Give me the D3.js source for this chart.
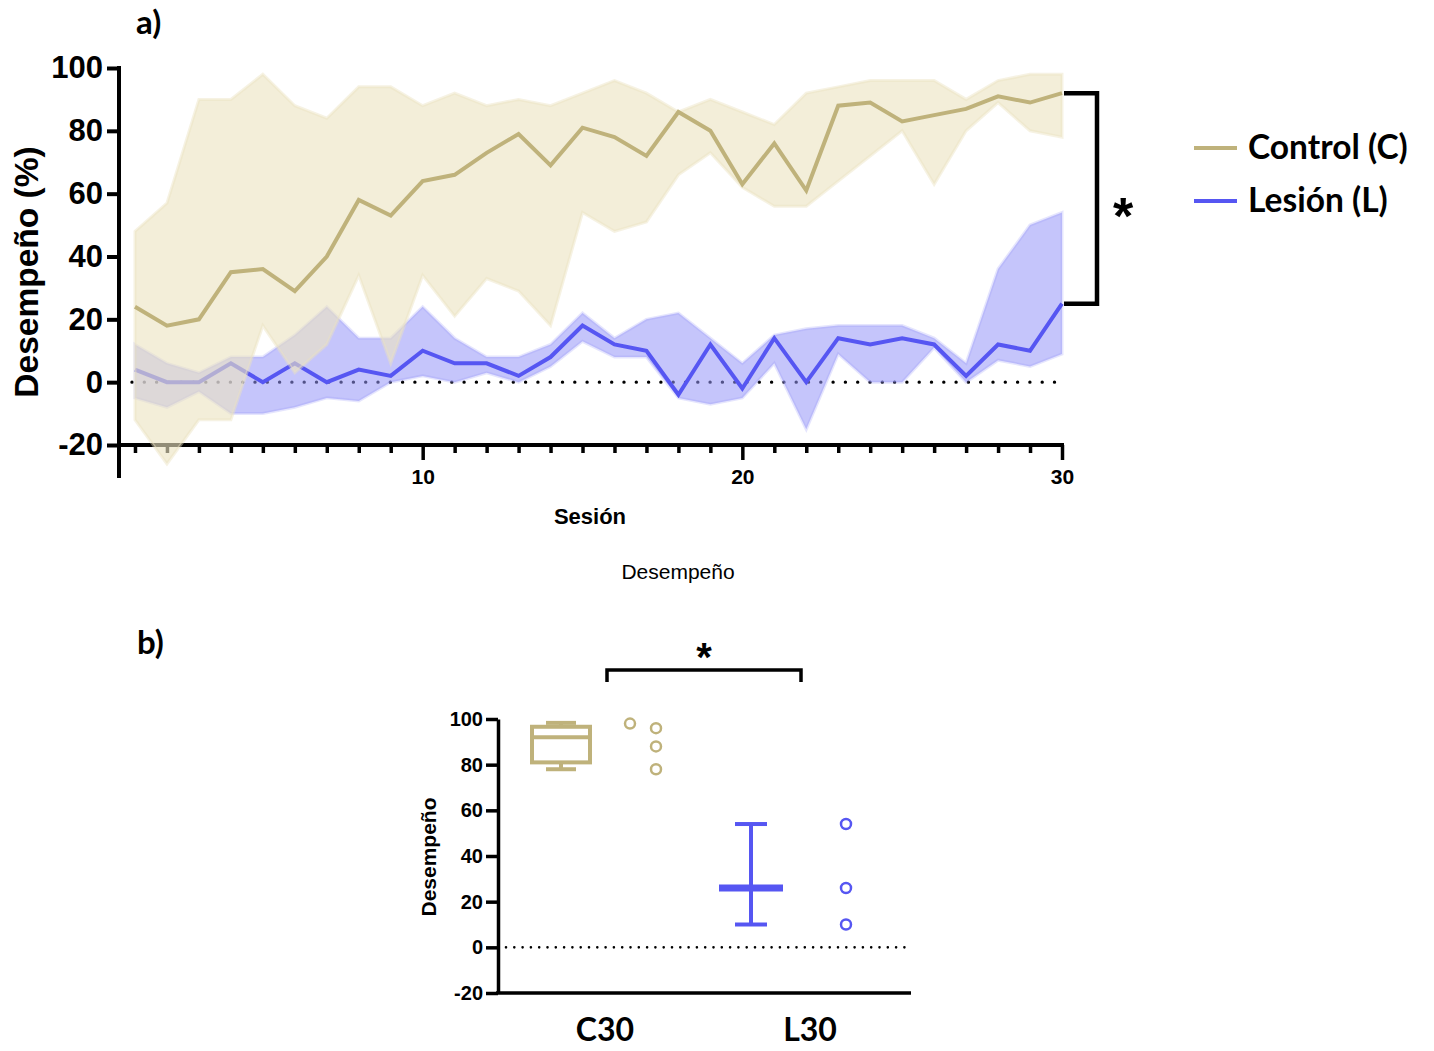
<!DOCTYPE html>
<html lang="es">
<head>
    <meta charset="utf-8" />
    <title>Desempeño por sesión</title>
    <script src="https://d3js.org/d3.v7.min.js"></script>
    <style>
        body { margin: 0; background: #fff; }
        .axis path, .axis line { stroke: #000; }
        .arial { font-family: "Liberation Sans", Arial, sans-serif; font-weight: bold; }
        .calibri { font-family: Lato, "Open Sans", sans-serif; font-weight: bold; }
    </style>
</head>
<body>
    <script>
        //======================datos=====================================================
        var sessions = d3.range(1, 31);

        // Control (C): media y banda
        var controlMean = [24, 18, 20, 35, 36, 29, 40, 58, 53, 64, 66, 73, 79, 69, 81, 78, 72, 86, 80, 63,
                           76, 61, 88, 89, 83, 85, 87, 91, 89, 92];
        var controlUpper = [48, 57, 90, 90, 98, 88, 84, 94, 94, 88, 92, 88, 90, 88, 92, 96, 92, 86, 90, 86,
                            82, 92, 94, 96, 96, 96, 90, 96, 98, 98];
        var controlLower = [-12, -26, -12, -12, 18, 3, 12, 34, 6, 34, 21, 33, 29, 18, 54, 48, 51, 66, 73, 62,
                            56, 56, 64, 72, 80, 63, 80, 89, 80, 78];

        // Lesión (L): media y banda
        var lesionMean = [4, 0, 0, 6, 0, 6, 0, 4, 2, 10, 6, 6, 2, 8, 18, 12, 10, -4, 12, -2,
                          14, 0, 14, 12, 14, 12, 2, 12, 10, 25];
        var lesionUpper = [12, 6, 3, 8, 8, 15, 24, 14, 14, 24, 14, 8, 8, 12, 22, 14, 20, 22, 14, 6,
                           15, 17, 18, 18, 18, 14, 6, 36, 50, 54];
        var lesionLower = [-5, -8, -3, -10, -10, -8, -5, -6, 0, 2, 0, 3, 0, 5, 13, 8, 8, -5, -7, -5,
                           6, -15, 9, 0, 0, 11, 0, 7, 5, 9];

        var yTicksA = [-20, 0, 20, 40, 60, 80, 100];
        var xMajorTicks = [10, 20, 30];

        // b) sesión 30
        var groupsB = ["C30", "L30"];
        var c30Points = [98, 96, 88, 78];
        var c30Box = { min: 78, q1: 81, median: 92, q3: 96.6, max: 98.3 };
        var l30Points = [54, 26, 10];
        var l30Range = { min: 10, median: 26, max: 54 };
        var yTicksB = [-20, 0, 20, 40, 60, 80, 100];

        //======================estilo=====================================================
        var colorC = "#bfb27b", colorL = "#5656f2";
        var bandC = "rgb(235,227,193)", bandL = "rgb(150,150,248)";
        var plainNum = function (d) { return String(d); }; // guion normal en "-20"

        var svg = d3.select("body").append("svg")
            .attr("width", 1434)
            .attr("height", 1051);

        //======================a)=====================================================
        var x = d3.scaleLinear().domain([0.5, 30]).range([119, 1062]);
        var y = d3.scaleLinear().domain([-20, 100]).range([445, 68]);

        svg.append("text").attr("class", "calibri")
            .attr("x", 136).attr("y", 34)
            .attr("font-size", 33)
            .text("a)");

        // línea punteada en 0
        svg.append("line")
            .attr("x1", 132).attr("x2", 1060)
            .attr("y1", y(0)).attr("y2", y(0))
            .attr("stroke", "#000")
            .attr("stroke-width", 3.4)
            .attr("stroke-linecap", "round")
            .attr("stroke-dasharray", "0 12.3");

        // ejes
        var yAxisA = svg.append("g").attr("class", "axis arial")
            .attr("transform", "translate(119,0)")
            .call(d3.axisLeft(y).tickValues(yTicksA).tickFormat(plainNum)
                .tickSize(12).tickPadding(4).tickSizeOuter(0));
        yAxisA.select(".domain").remove();
        yAxisA.selectAll("line").attr("stroke-width", 4);
        yAxisA.selectAll("text").attr("font-size", 31).attr("fill", "#000");
        svg.append("line").attr("x1", 119).attr("x2", 119)
            .attr("y1", y(100) - 2).attr("y2", 478)
            .attr("stroke", "#000").attr("stroke-width", 4);

        var xAxisA = svg.append("g").attr("class", "axis arial")
            .attr("transform", "translate(0," + y(-20) + ")")
            .call(d3.axisBottom(x).tickValues(sessions).tickSizeOuter(0).tickSize(8)
                .tickFormat(function (d) { return xMajorTicks.indexOf(d) >= 0 ? d : ""; }));
        xAxisA.select(".domain").attr("stroke-width", 4).attr("d", "M117,0H1064");
        xAxisA.selectAll(".tick line")
            .attr("stroke-width", 3.5)
            .attr("y2", function (d) { return xMajorTicks.indexOf(d) >= 0 ? 15 : 8; });
        xAxisA.selectAll("text").attr("font-size", 21).attr("fill", "#000").attr("y", 24);

        svg.append("text").attr("class", "arial")
            .attr("x", 590).attr("y", 524)
            .attr("text-anchor", "middle").attr("font-size", 22)
            .text("Sesión");

        svg.append("text").attr("class", "arial")
            .attr("transform", "translate(38,272) rotate(-90)")
            .attr("text-anchor", "middle").attr("font-size", 33.5)
            .text("Desempeño (%)");

        // bandas y líneas
        function band(upper, lower) {
            return d3.area()
                .x(function (d, i) { return x(sessions[i]); })
                .y0(function (d, i) { return y(lower[i]); })
                .y1(function (d, i) { return y(upper[i]); })(upper);
        }
        var line = d3.line()
            .x(function (d, i) { return x(sessions[i]); })
            .y(function (d) { return y(d); });

        svg.append("path")
            .attr("d", band(lesionUpper, lesionLower))
            .attr("fill", bandL).attr("fill-opacity", 0.55)
            .attr("stroke", bandL).attr("stroke-opacity", 0.25).attr("stroke-width", 3);

        svg.append("path")
            .attr("d", line(lesionMean))
            .attr("fill", "none").attr("stroke", colorL).attr("stroke-width", 4);

        svg.append("path")
            .attr("d", band(controlUpper, controlLower))
            .attr("fill", bandC).attr("fill-opacity", 0.62)
            .attr("stroke", bandC).attr("stroke-opacity", 0.45).attr("stroke-width", 3);

        svg.append("path")
            .attr("d", line(controlMean))
            .attr("fill", "none").attr("stroke", colorC).attr("stroke-width", 4);

        // corchete de significancia
        var bx = 1097, yTop = y(controlMean[29]), yBot = y(lesionMean[29]);
        svg.append("path")
            .attr("d", "M1064," + yTop + "H" + bx + "V" + yBot + "H1064")
            .attr("fill", "none").attr("stroke", "#000").attr("stroke-width", 4.5);
        svg.append("text").attr("class", "arial")
            .attr("x", 1123).attr("y", 234)
            .attr("text-anchor", "middle").attr("font-size", 52)
            .text("*");

        // leyenda
        var legend = [{ name: "Control (C)", color: colorC }, { name: "Lesión (L)", color: colorL }];
        var lg = svg.selectAll(".legend").data(legend).enter().append("g")
            .attr("transform", function (d, i) { return "translate(1194," + (148 + i * 53) + ")"; });
        lg.append("line").attr("x1", 0).attr("x2", 43)
            .attr("stroke", function (d) { return d.color; }).attr("stroke-width", 4);
        lg.append("text").attr("class", "calibri")
            .attr("x", 54).attr("y", 11)
            .attr("font-size", 33.5)
            .text(function (d) { return d.name; });

        svg.append("text")
            .attr("x", 678).attr("y", 579)
            .attr("text-anchor", "middle")
            .attr("font-family", "'Liberation Sans', Arial, sans-serif")
            .attr("font-size", 21)
            .text("Desempeño");

        //======================b)=====================================================
        var yb = d3.scaleLinear().domain([-20, 100]).range([993, 719]);
        var xb = d3.scalePoint().domain(groupsB).range([605, 810]);

        svg.append("text").attr("class", "calibri")
            .attr("x", 137).attr("y", 654)
            .attr("font-size", 33)
            .text("b)");

        svg.append("line")
            .attr("x1", 506).attr("x2", 905)
            .attr("y1", yb(0)).attr("y2", yb(0))
            .attr("stroke", "#000")
            .attr("stroke-width", 2.6)
            .attr("stroke-linecap", "round")
            .attr("stroke-dasharray", "0 8.3");

        var yAxisB = svg.append("g").attr("class", "axis arial")
            .attr("transform", "translate(498,0)")
            .call(d3.axisLeft(yb).tickValues(yTicksB).tickFormat(plainNum)
                .tickSize(12).tickPadding(3).tickSizeOuter(0));
        yAxisB.select(".domain").attr("stroke-width", 3.5);
        yAxisB.selectAll("line").attr("stroke-width", 3.5);
        yAxisB.selectAll("text").attr("font-size", 20).attr("fill", "#000");

        svg.append("line").attr("x1", 496).attr("x2", 911)
            .attr("y1", yb(-20)).attr("y2", yb(-20))
            .attr("stroke", "#000").attr("stroke-width", 3.5);

        svg.selectAll(".glabel").data(groupsB).enter().append("text")
            .attr("class", "calibri")
            .attr("x", function (d) { return xb(d); }).attr("y", 1041)
            .attr("text-anchor", "middle").attr("font-size", 32)
            .text(function (d) { return d; });

        svg.append("text").attr("class", "arial")
            .attr("transform", "translate(436,857) rotate(-90)")
            .attr("text-anchor", "middle").attr("font-size", 21)
            .text("Desempeño");

        // caja C30
        var cx = xb("C30") - 44;
        var boxG = svg.append("g").attr("stroke", colorC).attr("stroke-width", 4).attr("fill", "none");
        boxG.append("line").attr("x1", cx).attr("x2", cx).attr("y1", yb(c30Box.q1)).attr("y2", yb(c30Box.min));
        boxG.append("line").attr("x1", cx).attr("x2", cx).attr("y1", yb(c30Box.q3)).attr("y2", yb(c30Box.max));
        boxG.append("line").attr("x1", cx - 15).attr("x2", cx + 15).attr("y1", yb(c30Box.min)).attr("y2", yb(c30Box.min));
        boxG.append("line").attr("x1", cx - 15).attr("x2", cx + 15).attr("y1", yb(c30Box.max)).attr("y2", yb(c30Box.max));
        boxG.append("rect")
            .attr("x", cx - 29).attr("width", 58)
            .attr("y", yb(c30Box.q3)).attr("height", yb(c30Box.q1) - yb(c30Box.q3))
            .attr("fill", "#fff");
        boxG.append("line").attr("x1", cx - 29).attr("x2", cx + 29)
            .attr("y1", yb(c30Box.median)).attr("y2", yb(c30Box.median));

        // puntos C30
        var cJitter = [-13, 13, 13, 13];
        svg.selectAll(".cpt").data(c30Points).enter().append("circle")
            .attr("cx", function (d, i) { return xb("C30") + 38 + cJitter[i]; })
            .attr("cy", function (d) { return yb(d); })
            .attr("r", 5)
            .attr("fill", "none").attr("stroke", colorC).attr("stroke-width", 2.5);

        // mediana y rango L30
        var lx = xb("L30") - 59;
        var rg = svg.append("g").attr("stroke", colorL).attr("fill", "none");
        rg.append("line").attr("x1", lx).attr("x2", lx)
            .attr("y1", yb(l30Range.min)).attr("y2", yb(l30Range.max)).attr("stroke-width", 4);
        rg.append("line").attr("x1", lx - 16).attr("x2", lx + 16)
            .attr("y1", yb(l30Range.min)).attr("y2", yb(l30Range.min)).attr("stroke-width", 4);
        rg.append("line").attr("x1", lx - 16).attr("x2", lx + 16)
            .attr("y1", yb(l30Range.max)).attr("y2", yb(l30Range.max)).attr("stroke-width", 4);
        rg.append("line").attr("x1", lx - 32).attr("x2", lx + 32)
            .attr("y1", yb(l30Range.median)).attr("y2", yb(l30Range.median)).attr("stroke-width", 7);

        svg.selectAll(".lpt").data(l30Points).enter().append("circle")
            .attr("cx", xb("L30") + 36)
            .attr("cy", function (d) { return yb(d); })
            .attr("r", 5)
            .attr("fill", "none").attr("stroke", colorL).attr("stroke-width", 2.5);

        // corchete b)
        svg.append("path")
            .attr("d", "M607,682V670H801V682")
            .attr("fill", "none").attr("stroke", "#000").attr("stroke-width", 3.5);
        svg.append("text").attr("class", "arial")
            .attr("x", 704).attr("y", 671)
            .attr("text-anchor", "middle").attr("font-size", 40)
            .text("*");
    </script>
</body>
</html>
